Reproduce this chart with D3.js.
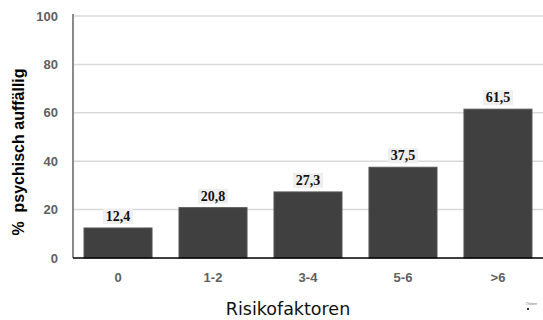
<!DOCTYPE html>
<html><head><meta charset="utf-8">
<script src="https://cdn.jsdelivr.net/npm/d3@7"></script>
<style>body{margin:0;background:#fff}svg{display:block}</style>
</head><body>
<script>
const categories = ["0","1-2","3-4","5-6",">6"];
const values = [12.4, 20.8, 27.3, 37.5, 61.5];
const yTicks = [0,20,40,60,80,100];
const valueLabels = ["12,4","20,8","27,3","37,5","61,5"];

const W=543,H=320;
const svg=d3.select("body").append("svg").attr("width",W).attr("height",H);
const x0=73, yBase=258, yTop=16;
const x=d3.scaleBand().domain(categories).range([x0,543]).paddingInner(0.284).paddingOuter(0.116);
const y=d3.scaleLinear().domain([0,100]).range([yBase,yTop]);

// gridlines
svg.append("g").selectAll("line").data(yTicks.filter(d=>d>0)).join("line")
  .attr("x1",x0).attr("x2",W).attr("y1",d=>y(d)).attr("y2",d=>y(d))
  .attr("stroke","#d9d9d9").attr("stroke-width",1.5);

// y axis
const ya=svg.append("g").attr("transform",`translate(${x0},0)`).call(d3.axisLeft(y).tickValues(yTicks).tickSize(0).tickPadding(15));
ya.select(".domain").attr("stroke","#8a8a8a").attr("stroke-width",2).attr("d",`M0,${yTop-2}V${yBase}`);
ya.selectAll("text").attr("font-family","Liberation Sans, Arial, sans-serif").attr("font-weight","bold").attr("font-size",13).attr("fill","#5f5f5f");

// bars
svg.append("g").selectAll("rect").data(values).join("rect")
  .attr("x",(d,i)=>x(categories[i])).attr("width",x.bandwidth())
  .attr("y",d=>y(d)).attr("height",d=>yBase-y(d))
  .attr("fill","#404040").attr("stroke","#555").attr("stroke-width",1);

// x axis
const xa=svg.append("g").attr("transform",`translate(0,${yBase})`).call(d3.axisBottom(x).tickSize(0).tickPadding(15));
xa.select(".domain").attr("stroke","#000").attr("stroke-width",1.5).attr("d",`M${x0},0H${W}`);
xa.selectAll("text").attr("font-family","Liberation Sans, Arial, sans-serif").attr("font-weight","bold").attr("font-size",13).attr("fill","#5f5f5f");

// value labels
const lg=svg.append("g");
values.forEach((v,i)=>{
  const cx=x(categories[i])+x.bandwidth()/2, by=y(v)-4;
  lg.append("rect").attr("x",cx-15).attr("y",by-15).attr("width",30).attr("height",15).attr("fill","#efefef");
  lg.append("text").attr("x",cx).attr("y",by-3).attr("text-anchor","middle")
    .attr("font-family","Liberation Serif, Times New Roman, serif").attr("font-weight","bold").attr("font-size",14)
    .attr("fill","#111").text(valueLabels[i]);
});

// axis titles
svg.append("text").attr("x",288).attr("y",315).attr("text-anchor","middle")
  .attr("font-family","DejaVu Sans, sans-serif").attr("font-size",17.5).attr("fill","#111").text("Risikofaktoren");
svg.append("text").attr("transform","translate(24,152) rotate(-90)").attr("text-anchor","middle")
  .attr("font-family","Liberation Sans, Arial, sans-serif").attr("font-weight","bold").attr("font-size",16)
  .attr("fill","#000").attr("xml:space","preserve").text("%  psychisch auffällig");

// tiny corner text
svg.append("text").attr("x",526).attr("y",305).attr("font-family","Liberation Sans, Arial, sans-serif").attr("font-size",4).attr("fill","#666").text("Österr");
svg.append("rect").attr("x",527).attr("y",308).attr("width",2).attr("height",2).attr("fill","#333");
</script>
</body></html>
